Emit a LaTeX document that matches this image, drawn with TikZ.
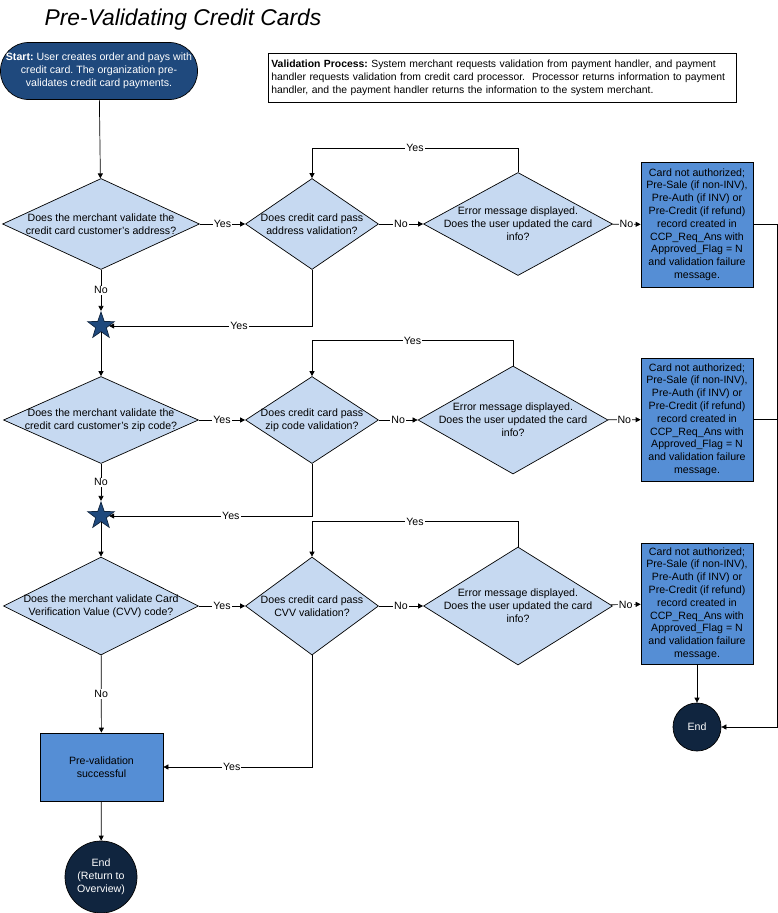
\documentclass[tikz,border=0pt]{standalone}
\usepackage{fontspec}
\setmainfont{Liberation Sans}
\usetikzlibrary{shapes.geometric,arrows.meta}

\definecolor{askblue}{RGB}{198,217,241}
\definecolor{failblue}{RGB}{85,142,213}
\definecolor{startblue}{RGB}{31,73,125}
\definecolor{endblue}{RGB}{16,37,63}

\newcommand{\failmsg}{Card not authorized;\\Pre-Sale (if non-INV),\\Pre-Auth (if INV) or\\Pre-Credit (if refund)\\record created in\\CCP\_Req\_Ans with\\Approved\_Flag = N\\and validation failure\\message.}

\tikzset{
  every node/.style={font=\fontsize{10.6}{12.8}\selectfont},
  ask/.style={diamond, draw, fill=askblue, inner sep=0pt},
  asktext/.style={align=center, inner sep=0pt},
  failbox/.style={draw, fill=failblue, minimum width=112pt, align=center, inner sep=0pt},
  joint/.style={star, star points=5, star point ratio=2.5, draw=endblue, fill=startblue, minimum size=28pt, inner sep=0pt},
  finish/.style={circle, draw, fill=endblue, text=white, align=center, inner sep=0pt},
  flow/.style={-{Triangle[length=5pt,width=5pt]}},
  lbl/.style={fill=white, inner sep=1pt}
}

\begin{document}
\frenchspacing
\begin{tikzpicture}[x=1pt, y=-1pt, line width=0.7pt]
  \useasboundingbox (0,0) rectangle (778,913);

  \node [anchor=base west, font=\fontsize{22.8}{27}\selectfont\itshape] (title) at (41,25) {Pre-Validating Credit Cards};

  \node [draw, fill=startblue, text=white, rounded corners=28pt, minimum width=197pt, minimum height=57pt, align=center, inner sep=0pt] (start) at (99,71) {\textbf{Start:} User creates order and pays with\\credit card. The organization pre-\\validates credit card payments.};
  \node [draw, anchor=north west, text width=462pt, minimum height=49pt, inner xsep=3pt, align=left, font=\fontsize{10.4}{13.3}\selectfont] (note) at (268,53) {\textbf{Validation Process:} System merchant requests validation from payment handler, and payment\\handler requests validation from credit card processor.\ \ Processor returns information to payment\\handler, and the payment handler returns the information to the system merchant.};

  % address check
  \node [ask, minimum width=197pt, minimum height=91pt] (ask1) at (101,224) {};
  \node [asktext] (ask1t) at (ask1) {Does the merchant validate the\\credit card customer's address?};
  \node [ask, minimum width=133pt, minimum height=91pt] (pass1) at (312,224) {};
  \node [asktext] (pass1t) at (pass1) {Does credit card pass\\address validation?};
  \node [ask, minimum width=189pt, minimum height=103pt] (err1) at (518,224) {};
  \node [asktext] (err1t) at (err1) {Error message displayed.\\Does the user updated the card\\info?};
  \node [failbox, minimum height=125pt] (fail1) at (697,224.5) {\failmsg};
  \node [joint] (join1) at (101,326) {};

  % zip code check
  \node [ask, minimum width=195pt, minimum height=87pt] (ask2) at (101,420) {};
  \node [asktext] (ask2t) at (ask2) {Does the merchant validate the\\credit card customer's zip code?};
  \node [ask, minimum width=133pt, minimum height=87pt] (pass2) at (312,420) {};
  \node [asktext] (pass2t) at (pass2) {Does credit card pass\\zip code validation?};
  \node [ask, minimum width=190pt, minimum height=108pt] (err2) at (513,420) {};
  \node [asktext] (err2t) at (err2) {Error message displayed.\\Does the user updated the card\\info?};
  \node [failbox, minimum height=123pt] (fail2) at (697,419.5) {\failmsg};
  \node [joint] (join2) at (101,516) {};

  % CVV check
  \node [ask, minimum width=195pt, minimum height=98pt] (ask3) at (101,606) {};
  \node [asktext] (ask3t) at (ask3) {Does the merchant validate Card\\Verification Value (CVV) code?};
  \node [ask, minimum width=133pt, minimum height=98pt] (pass3) at (312,606) {};
  \node [asktext] (pass3t) at (pass3) {Does credit card pass\\CVV validation?};
  \node [ask, minimum width=189pt, minimum height=118pt] (err3) at (518,606) {};
  \node [asktext] (err3t) at (err3) {Error message displayed.\\Does the user updated the card\\info?};
  \node [failbox, minimum height=121pt] (fail3) at (697,603.5) {\failmsg};

  \node [draw, fill=failblue, minimum width=123pt, minimum height=68pt, align=center] (ok) at (101.5,767) {Pre-validation\\successful};
  \node [finish, minimum size=72pt] (done) at (101,877) {End\\(Return to\\Overview)};
  \node [finish, minimum size=48pt] (stop) at (697,727) {End};

  \draw [flow] (start) -- (ask1);
  \draw [flow] (ask1) -- node [lbl] {Yes} (pass1);
  \draw [flow] (pass1) -- node [lbl] {No} (err1);
  \draw [flow] (err1) -- node [lbl] {No} (fail1);
  \draw [flow] (err1.north) -- ++(0,-24) -| node [lbl, pos=0.25] {Yes} (pass1.north);
  \draw [flow] (pass1.south) |- node [lbl, pos=0.68] {Yes} (join1);
  \draw [flow] (ask1) -- node [lbl] {No} (join1);
  \draw [flow] (join1) -- (ask2);

  \draw [flow] (ask2) -- node [lbl] {Yes} (pass2);
  \draw [flow] (pass2) -- node [lbl] {No} (err2);
  \draw [flow] (err2) -- node [lbl] {No} (fail2);
  \draw [flow] (err2.north) -- ++(0,-25) -| node [lbl, pos=0.25] {Yes} (pass2.north);
  \draw [flow] (pass2.south) |- node [lbl, pos=0.70] {Yes} (join2);
  \draw [flow] (ask2) -- node [lbl] {No} (join2);
  \draw [flow] (join2) -- (ask3);

  \draw [flow] (ask3) -- node [lbl] {Yes} (pass3);
  \draw [flow] (pass3) -- node [lbl] {No} (err3);
  \draw [flow] (err3) -- node [lbl] {No} (fail3);
  \draw [flow] (err3.north) -- ++(0,-25) -| node [lbl, pos=0.25] {Yes} (pass3.north);
  \draw [flow] (pass3.south) |- node [lbl, pos=0.77] {Yes} (ok);
  \draw [flow] (ask3) -- node [lbl] {No} (ok);
  \draw [flow] (ok) -- (done);

  \draw [flow] (fail3) -- (stop);
  \draw [flow] (fail1.east) -- ++(24,0) |- (stop);
  \draw (fail2.east) -- ++(24,0);
\end{tikzpicture}
\end{document}
